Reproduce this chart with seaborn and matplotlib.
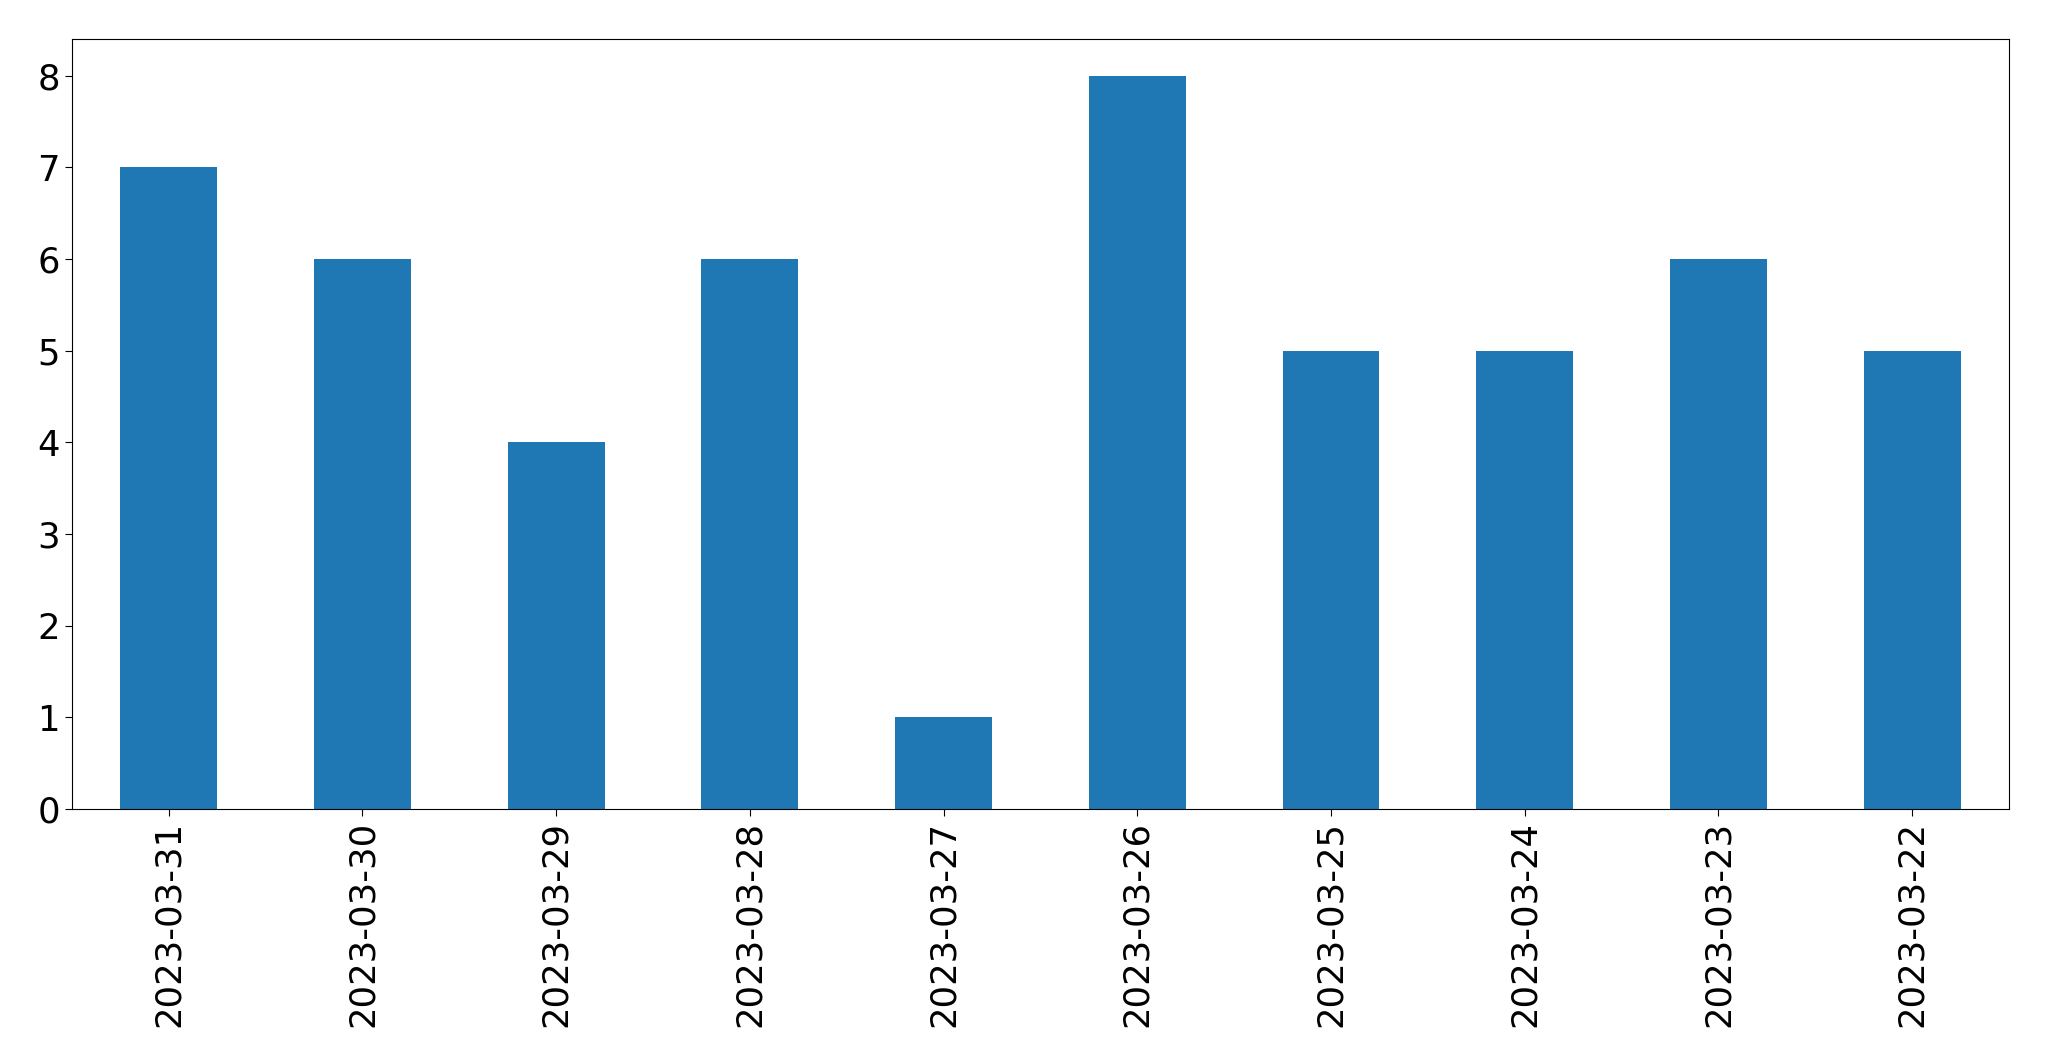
import pandas as pd
import seaborn as sns
import matplotlib
matplotlib.use("Agg")
import matplotlib.pyplot as plt

# daily counts, newest first
dates = ["2023-03-31", "2023-03-30", "2023-03-29", "2023-03-28", "2023-03-27",
         "2023-03-26", "2023-03-25", "2023-03-24", "2023-03-23", "2023-03-22"]
counts = [7, 6, 4, 6, 1, 8, 5, 5, 6, 5]

df = pd.DataFrame({"date": dates, "count": counts})

fig, ax = plt.subplots(figsize=(20.49, 10.61), dpi=100)
fig.subplots_adjust(left=0.0351, right=0.9805, top=0.9632, bottom=0.2375)

sns.barplot(data=df, x="date", y="count", order=dates, color="#1f77b4",
            saturation=1, width=0.5, ax=ax)

ax.set_xlim(-0.5, len(dates) - 0.5)
ax.set_xlabel("")
ax.set_ylabel("")
ax.tick_params(axis="both", labelsize=25.5, length=5)
ax.tick_params(axis="x", labelrotation=90)

fig.savefig("out.png", dpi=100)
